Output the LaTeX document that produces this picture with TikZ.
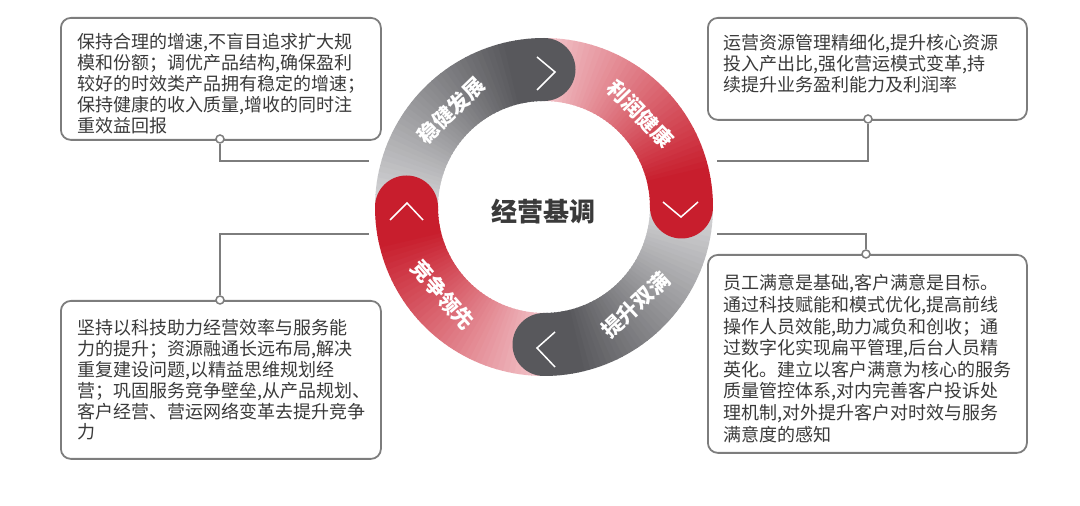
\documentclass[tikz,border=0pt]{standalone}
\usepackage{fontspec}
\setmainfont{Noto Sans CJK SC}
\usetikzlibrary{calc,positioning}
\definecolor{rgdark}{RGB}{88,88,92}
\definecolor{rglight}{RGB}{214,214,216}
\definecolor{rrdark}{RGB}{200,30,45}
\definecolor{rrlight}{RGB}{242,196,202}
\definecolor{bxline}{RGB}{125,125,125}
\definecolor{bxtext}{RGB}{58,58,58}

\begin{document}
\begin{tikzpicture}[x=1pt,y=1pt,
    infobox/.style 2 args={draw=bxline,line width=1.8pt,rounded corners=10pt,inner sep=0pt,
      minimum width=#1,minimum height=#2,anchor=north west},
    infotext/.style={anchor=north west,align=left,inner sep=0pt,text=bxtext,
      font=\fontsize{18}{20.8}\selectfont},
    dot/.style={circle,draw=bxline,fill=white,line width=1.5pt,minimum size=8pt,inner sep=0pt},
    conn/.style={draw=bxline,line width=1.8pt},
    seglabel/.style={text=white,font=\fontsize{21}{21}\selectfont\bfseries},
    chev/.style={white,line width=1.5pt}]
  \useasboundingbox (0,0) rectangle (1080,506);
  \coordinate (o) at (544,299);
  \foreach \s/\cl/\cd in {180/rglight/rgdark,90/rrlight/rrdark,0/rglight/rgdark,-90/rrlight/rrdark}{
    \foreach \i in {0,...,44}{
      \pgfmathsetmacro\pct{min(100,100*\i/38)}
      \draw[line width=63pt,color=\cd!\pct!\cl] ($(o)+(\s-2*\i:137.5)$)
        arc[start angle=\s-2*\i,delta angle=-2.5,radius=137.5];
    }
  }
  \coordinate (c1) at ($(o)+(90:137.5)$);
  \coordinate (c2) at ($(o)+(0:137.5)$);
  \coordinate (c3) at ($(o)+(-90:137.5)$);
  \coordinate (c4) at ($(o)+(180:137.5)$);
  \fill[rgdark] (c1) circle[radius=31.5];
  \fill[rrdark] (c2) circle[radius=31.5];
  \fill[rgdark] (c3) circle[radius=31.5];
  \fill[rrdark] (c4) circle[radius=31.5];
  \draw[chev] (c1) ++(-7,12.5) -- ++(18,-15) -- ++(-18,-18);
  \draw[chev] (c2) ++(-18.5,5) -- ++(18,-15) -- ++(17,15);
  \draw[chev] (c3) ++(11,12.5) -- ++(-18,-16) -- ++(18,-19);
  \draw[chev] (c4) ++(-16.5,-13) -- ++(17,17) -- ++(16,-17);
  \node[seglabel,rotate=44] (l1) at ($(o)+(134:134)$) {稳健发展};
  \node[seglabel,rotate=-46] (l2) at ($(o)+(44:134)$) {利润健康};
  \node[seglabel,rotate=43] (l3) at ($(o)+(-47:134)$) {提升双满};
  \node[seglabel,rotate=-49] (l4) at ($(o)+(-139:134)$) {竞争领先};
  \node[text=bxtext,font=\fontsize{26}{26}\selectfont\bfseries] (title) at (543,294) {经营基调};

  \node[infobox={320}{122}] (b1) at (60,489) {};
  \node[infobox={319}{102}] (b2) at (707,489) {};
  \node[infobox={320}{158}] (b3) at (60,206) {};
  \node[infobox={319}{198}] (b4) at (707,252) {};
  \node[infotext] (t1) at (77,472.5) {保持合理的增速,不盲目追求扩大规\\模和份额；调优产品结构,确保盈利\\较好的时效类产品拥有稳定的增速；\\保持健康的收入质量,增收的同时注\\重效益回报};
  \node[infotext] (t2) at (723,471.5) {运营资源管理精细化,提升核心资源\\投入产出比,强化营运模式变革,持\\续提升业务盈利能力及利润率};
  \node[infotext] (t3) at (77,186.5) {坚持以科技助力经营效率与服务能\\力的提升；资源融通长远布局,解决\\重复建设问题,以精益思维规划经\\营；巩固服务竞争壁垒,从产品规划、\\客户经营、营运网络变革去提升竞争\\力};
  \node[infotext,font=\fontsize{18}{21.6}\selectfont] (t4) at (723,231.5) {员工满意是基础,客户满意是目标。\\通过科技赋能和模式优化,提高前线\\操作人员效能,助力减负和创收；通\\过数字化实现扁平管理,后台人员精\\英化。建立以客户满意为核心的服务\\质量管控体系,对内完善客户投诉处\\理机制,对外提升客户对时效与服务\\满意度的感知};

  \coordinate (e1) at (369,345);
  \coordinate (e2) at (717,345);
  \coordinate (e3) at (369,272);
  \coordinate (e4) at (717,272);
  \node[dot] (d1) at (220,367) {};
  \node[dot] (d2) at (868,387) {};
  \node[dot] (d3) at (220,206) {};
  \node[dot] (d4) at (866,252) {};
  \draw[conn] (d1) |- (e1);
  \draw[conn] (d2) |- (e2);
  \draw[conn] (d3) |- (e3);
  \draw[conn] (d4) |- (e4);
\end{tikzpicture}
\end{document}
